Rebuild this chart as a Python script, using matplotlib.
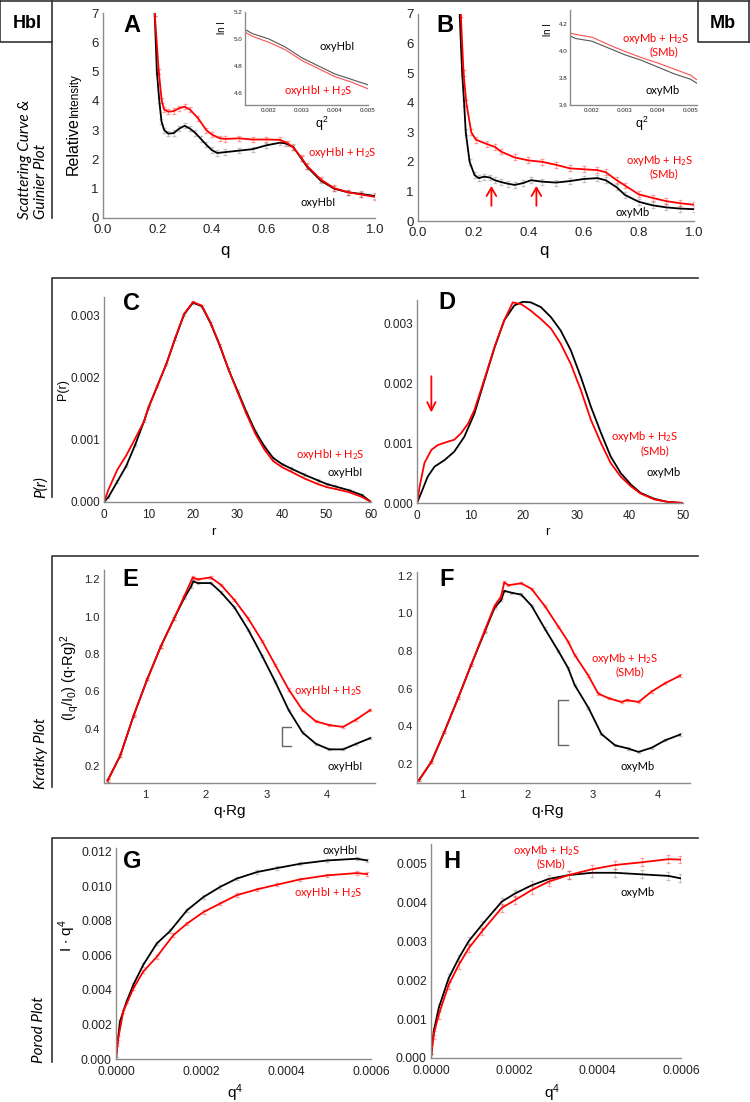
import matplotlib
matplotlib.use('Agg')
import matplotlib.pyplot as plt
from matplotlib.lines import Line2D
from matplotlib.ticker import FormatStrFormatter

plt.rcParams['font.family'] = ['Liberation Sans', 'DejaVu Sans']
plt.rcParams['mathtext.default'] = 'regular'

W, H = 750, 1102
RED = '#ff0000'
LBL = ['Lato', 'DejaVu Sans']  # Calibri-like font for curve labels

# ---- Panel A: scattering curve HbI ----
qA_black = [0.185, 0.19, 0.198, 0.207, 0.215, 0.225, 0.24, 0.26, 0.28, 0.30, 0.32, 0.34, 0.36, 0.38, 0.40,
            0.42, 0.45, 0.50, 0.55, 0.60, 0.65, 0.67, 0.70, 0.73, 0.75, 0.80, 0.85, 0.90, 0.95, 1.0]
IA_black = [7.8, 7.0, 5.0, 4.0, 3.3, 3.0, 2.88, 2.9, 3.05, 3.15, 3.05, 2.9, 2.7, 2.5, 2.32,
            2.22, 2.25, 2.3, 2.35, 2.48, 2.57, 2.55, 2.42, 2.02, 1.75, 1.28, 1.0, 0.88, 0.82, 0.75]
qA_red = [0.185, 0.19, 0.205, 0.216, 0.225, 0.24, 0.26, 0.28, 0.30, 0.32, 0.35, 0.38, 0.40, 0.43,
          0.45, 0.50, 0.55, 0.60, 0.65, 0.68, 0.70, 0.73, 0.75, 0.80, 0.85, 0.90, 0.95, 1.0]
IA_red = [7.8, 7.0, 5.0, 4.0, 3.7, 3.63, 3.65, 3.75, 3.8, 3.7, 3.4, 3.0, 2.85, 2.72,
          2.7, 2.72, 2.68, 2.68, 2.67, 2.55, 2.4, 2.05, 1.78, 1.32, 1.02, 0.88, 0.8, 0.72]
errA = 0.09

# inset A (Guinier)
q2A = [0.00128, 0.0015, 0.002, 0.0025, 0.003, 0.0035, 0.004, 0.0045, 0.005]
lnA_black = [5.07, 5.04, 5.0, 4.94, 4.86, 4.80, 4.74, 4.70, 4.66]
lnA_red = [5.05, 5.02, 4.975, 4.92, 4.84, 4.78, 4.72, 4.68, 4.63]

# ---- Panel B: scattering curve Mb ----
qB_black = [0.148, 0.151, 0.16, 0.167, 0.173, 0.187, 0.205, 0.22, 0.24, 0.26, 0.278, 0.30, 0.326, 0.35, 0.38,
            0.41, 0.45, 0.50, 0.55, 0.60, 0.65, 0.68, 0.72, 0.75, 0.80, 0.85, 0.90, 0.95, 1.0]
IB_black = [7.8, 7.0, 5.0, 4.0, 3.0, 2.0, 1.55, 1.45, 1.5, 1.47, 1.38, 1.32, 1.26, 1.22, 1.28,
            1.38, 1.33, 1.3, 1.35, 1.42, 1.45, 1.38, 1.14, 0.88, 0.65, 0.53, 0.46, 0.42, 0.4]
qB_red = [0.15, 0.155, 0.165, 0.175, 0.193, 0.21, 0.25, 0.28, 0.30, 0.35, 0.40, 0.45, 0.50, 0.55,
          0.60, 0.65, 0.68, 0.72, 0.75, 0.80, 0.85, 0.90, 0.95, 1.0]
IB_red = [7.8, 7.0, 5.0, 4.0, 3.0, 2.75, 2.6, 2.5, 2.35, 2.15, 2.05, 2.0, 1.9, 1.78,
          1.75, 1.72, 1.65, 1.38, 1.2, 0.9, 0.78, 0.67, 0.6, 0.55]
errB = 0.1
arrowsB_q = [0.266, 0.429]

q2B = [0.00133, 0.0015, 0.002, 0.0025, 0.003, 0.0035, 0.004, 0.0045, 0.005, 0.0052]
lnB_black = [4.11, 4.09, 4.07, 4.02, 3.97, 3.93, 3.88, 3.83, 3.79, 3.76]
lnB_red = [4.13, 4.12, 4.10, 4.045, 3.995, 3.95, 3.91, 3.865, 3.82, 3.785]

# ---- Panel C: P(r) HbI ----
rC = [0, 1, 3, 5, 7, 9, 10, 12, 14, 16, 18, 20, 22, 24, 26, 28, 30, 32, 34, 36, 38, 40, 42, 45, 48, 50, 52, 55, 58, 60]
PC_black = [0, 0.00008, 0.00033, 0.00058, 0.00092, 0.0013, 0.00152, 0.00187, 0.00222, 0.00263, 0.00302, 0.00321,
            0.00315, 0.00287, 0.00252, 0.00213, 0.00179, 0.00145, 0.00114, 0.0009, 0.00071, 0.00061, 0.00054,
            0.00044, 0.00035, 0.00029, 0.00025, 0.00019, 0.00011, 0]
PC_red = [0, 0.0002, 0.00052, 0.00075, 0.00102, 0.0013, 0.00152, 0.00187, 0.00222, 0.00264, 0.00303, 0.00322,
          0.00316, 0.00288, 0.00253, 0.00213, 0.00177, 0.00142, 0.0011, 0.00085, 0.00066, 0.00056, 0.00049,
          0.00038, 0.00029, 0.00024, 0.00021, 0.00016, 0.00008, 0]

# ---- Panel D: P(r) Mb ----
rD_black = [0, 0.8, 2, 3.3, 5.2, 7, 8.9, 10.8, 12.7, 14.6, 16.4, 18.3, 19.9, 21.4, 23.3, 25.2, 27, 28.9,
            30.8, 32.7, 34.6, 36.4, 38.3, 40.2, 42, 44.6, 47, 50]
PD_black = [0, 0.00017, 0.00044, 0.00061, 0.00072, 0.00086, 0.00111, 0.0015, 0.00206, 0.00261, 0.00306, 0.00331,
            0.00337, 0.00336, 0.00328, 0.00311, 0.00289, 0.00256, 0.00211, 0.00161, 0.00117, 0.00078, 0.0005,
            0.00031, 0.00017, 0.00007, 0.00002, 0]
rD_red = [0, 0.5, 1.4, 2.7, 3.9, 5.2, 7, 8.3, 9.6, 10.8, 12.7, 14.6, 16.4, 18, 19.6, 21.4, 23.3, 25.2, 27,
          28.9, 30.8, 32.7, 34.6, 36.4, 38.3, 40.2, 42, 44.6, 47, 50]
PD_red = [0, 0.00028, 0.00067, 0.00089, 0.00097, 0.00101, 0.00106, 0.00117, 0.00133, 0.00156, 0.00208, 0.00262,
          0.00306, 0.00336, 0.00333, 0.00322, 0.00308, 0.00292, 0.00267, 0.00233, 0.00189, 0.00139, 0.001,
          0.00067, 0.00044, 0.00028, 0.00016, 0.00006, 0.00002, 0]

# ---- Panel E: Kratky HbI ----
xE_black = [0.37, 0.58, 0.8, 1.03, 1.25, 1.47, 1.64, 1.75, 1.79, 1.86, 2.08, 2.25, 2.47, 2.7, 2.93, 3.15,
            3.37, 3.6, 3.82, 4.04, 4.27, 4.49, 4.72]
yE_black = [0.123, 0.257, 0.47, 0.668, 0.84, 0.99, 1.1, 1.16, 1.19, 1.18, 1.18, 1.13, 1.05, 0.93, 0.79, 0.65,
            0.5, 0.38, 0.32, 0.29, 0.29, 0.32, 0.35]
xE_red = [0.37, 0.58, 0.8, 1.03, 1.25, 1.47, 1.64, 1.78, 1.86, 2.08, 2.25, 2.47, 2.7, 2.93, 3.15, 3.37,
          3.6, 3.82, 4.04, 4.27, 4.49, 4.72]
yE_red = [0.123, 0.257, 0.47, 0.668, 0.84, 0.99, 1.11, 1.21, 1.2, 1.21, 1.17, 1.09, 0.99, 0.87, 0.74, 0.61,
          0.5, 0.44, 0.42, 0.41, 0.45, 0.5]
bracketE = ([3.4, 3.26, 3.26, 3.4], [0.409, 0.409, 0.307, 0.307])

# ---- Panel F: Kratky Mb ----
xF_black = [0.34, 0.53, 0.73, 0.94, 1.14, 1.35, 1.5, 1.6, 1.65, 1.76, 1.91, 2.07, 2.27, 2.48, 2.63, 2.73,
            2.94, 3.14, 3.35, 3.55, 3.71, 3.91, 4.12, 4.35]
yF_black = [0.115, 0.212, 0.372, 0.55, 0.726, 0.903, 1.03, 1.07, 1.12, 1.11, 1.10, 1.04, 0.92, 0.8, 0.71, 0.62,
            0.5, 0.36, 0.3, 0.283, 0.265, 0.287, 0.327, 0.357]
xF_red = [0.34, 0.53, 0.73, 0.94, 1.14, 1.35, 1.5, 1.6, 1.65, 1.71, 1.91, 2.07, 2.27, 2.48, 2.63, 2.73,
          2.94, 3.09, 3.25, 3.45, 3.53, 3.71, 3.91, 4.12, 4.35]
yF_red = [0.115, 0.212, 0.372, 0.55, 0.726, 0.91, 1.04, 1.09, 1.165, 1.15, 1.16, 1.13, 1.04, 0.93, 0.85, 0.78,
          0.67, 0.575, 0.55, 0.53, 0.54, 0.53, 0.585, 0.63, 0.67]
bracketF = ([2.62, 2.48, 2.48, 2.62], [0.54, 0.54, 0.30, 0.30])

# ---- Panel G: Porod HbI ----
xG_black = [0, 3e-6, 9.4e-6, 2.5e-5, 4.1e-5, 6.4e-5, 9.6e-5, 1.27e-4, 1.67e-4, 2.06e-4, 2.45e-4, 2.84e-4,
            3.32e-4, 3.79e-4, 4.34e-4, 4.97e-4, 5.67e-4, 5.91e-4]
yG_black = [0, 0.00083, 0.00217, 0.00333, 0.0043, 0.00544, 0.00668, 0.00739, 0.0086, 0.00937, 0.00995, 0.01043,
            0.01081, 0.01104, 0.01129, 0.01148, 0.01158, 0.01148]
xG_red = [0, 5.5e-6, 1.7e-5, 4.1e-5, 6.4e-5, 9.6e-5, 1.35e-4, 1.67e-4, 2.06e-4, 2.45e-4, 2.84e-4, 3.32e-4,
          3.79e-4, 4.34e-4, 4.97e-4, 5.67e-4, 5.91e-4]
yG_red = [0, 0.00121, 0.00275, 0.00409, 0.00505, 0.00591, 0.00716, 0.00783, 0.0085, 0.00899, 0.00947, 0.00981,
          0.01008, 0.01039, 0.01062, 0.01075, 0.01069]
errG = 0.0001

# ---- Panel H: Porod Mb ----
xH = [0, 6.4e-6, 1.84e-5, 4.24e-5, 6.64e-5, 9.04e-5, 1.22e-4, 1.7e-4, 2.02e-4, 2.42e-4, 2.82e-4, 3.3e-4,
      3.86e-4, 4.42e-4, 5.06e-4, 5.7e-4, 5.98e-4]
yH_black = [0, 0.00068, 0.00128, 0.00205, 0.00256, 0.003, 0.00342, 0.00402, 0.00423, 0.00444, 0.0046, 0.0047,
            0.00476, 0.00476, 0.00472, 0.00468, 0.00462]
yH_red = [0, 0.0006, 0.00111, 0.00188, 0.00239, 0.00282, 0.00325, 0.00386, 0.00406, 0.00432, 0.00453, 0.0047,
          0.00485, 0.00496, 0.00503, 0.00511, 0.0051]
errH = 0.0001


def fx(x):
    return x / W


def fy(y):
    return 1 - y / H


def make_ax(l, t, r, b, tsize=9):
    ax = fig.add_axes([fx(l), fy(b), (r - l) / W, (b - t) / H])
    for s in ['top', 'right']:
        ax.spines[s].set_visible(False)
    for s in ['left', 'bottom']:
        ax.spines[s].set_color('#8c8c8c')
        ax.spines[s].set_linewidth(1.0)
    ax.tick_params(length=0, labelsize=tsize, colors='#222222')
    ax.tick_params(axis='y', pad=3)
    ax.tick_params(axis='x', pad=5)
    ax.patch.set_alpha(0)
    return ax


def ftext(x, y, s, **kw):
    fig.text(fx(x), fy(y), s, **kw)


def fline(xs, ys, lw=1.2, color='#333333'):
    fig.add_artist(Line2D([fx(x) for x in xs], [fy(y) for y in ys], transform=fig.transFigure,
                          color=color, lw=lw))


def curve(ax, x, y, color, err=None, lw=1.3):
    if err is not None:
        ecol = '#666666' if color == 'black' else color
        ax.errorbar(x, y, yerr=err, fmt='none', ecolor=ecol, alpha=0.35, elinewidth=0.6, capsize=1.5)
    ax.plot(x, y, color=color, lw=lw)


fig = plt.figure(figsize=(W / 100, H / 100), dpi=100)

# frame lines and boxes
fline([0, 52, 52, 0, 0], [1, 1, 42, 42, 1])
fline([52, 750], [1, 1])
fline([52, 52], [42, 218])
fline([698, 698, 750], [1, 42, 42])
fline([749, 749], [1, 42])
ftext(27, 23, 'HbI', ha='center', va='center', fontsize=13, fontweight='bold')
ftext(723, 23, 'Mb', ha='center', va='center', fontsize=13, fontweight='bold')
for top, bot in [(278, 497), (556, 787), (838, 1062)]:
    fline([698, 52, 52], [top, top, bot])

# row labels
rl = dict(family=LBL, style='italic', fontsize=11, rotation=90, ha='center', va='bottom')
ftext(25, 219, 'Scattering Curve &', **rl)
ftext(41, 219, 'Guinier Plot', **rl)
ftext(41, 498, 'P(r)', **rl)
ftext(41, 789, 'Kratky Plot', **rl)
ftext(39, 1063, 'Porod Plot', **rl)

lab = dict(family=LBL, fontsize=8, ha='center', va='center')
letter = dict(fontsize=17, fontweight='bold', ha='center', va='center')

# ---- A ----
ax = make_ax(103, 13, 375, 218, tsize=9.5)
curve(ax, qA_black, IA_black, 'black', errA)
curve(ax, qA_red, IA_red, RED, errA)
ax.set_xlim(0, 1.0)
ax.set_ylim(0, 7)
ax.set_xticks([0, 0.2, 0.4, 0.6, 0.8, 1.0])
ax.xaxis.set_major_formatter(FormatStrFormatter('%.1f'))
ax.set_yticks(range(8))
ax.tick_params(axis='x', pad=4)
ftext(225, 250, 'q', ha='center', va='center', fontsize=12)
ftext(73, 146, 'Relative', rotation=90, ha='center', va='center', fontsize=11.5)
ftext(75, 95, 'Intensity', rotation=90, ha='center', va='center', fontsize=8.5)
ftext(132, 25, 'A', **letter)
ftext(342, 152, 'oxyHbI + H$_2$S', color=RED, **lab)
ftext(318, 203, 'oxyHbI', color='black', **lab)

ax = make_ax(245, 12, 368, 105, tsize=4.5)
ax.plot(q2A, lnA_black, color='#555555', lw=0.8)
ax.plot(q2A, lnA_red, color='#ff5050', lw=0.8)
ax.set_xlim(0.00128, 0.005)
ax.set_ylim(4.51, 5.2)
ax.set_xticks([0.002, 0.003, 0.004, 0.005])
ax.xaxis.set_major_formatter(FormatStrFormatter('%.3f'))
ax.set_yticks([4.6, 4.8, 5.0, 5.2])
ax.yaxis.set_major_formatter(FormatStrFormatter('%.1f'))
ax.tick_params(pad=2)
ftext(322, 124, 'q$^2$', ha='center', va='center', fontsize=9)
ftext(222, 28, 'ln I', rotation=90, ha='center', va='center', fontsize=7)
ftext(337, 47, 'oxyHbI', color='black', **lab)
ftext(318, 90, 'oxyHbI + H$_2$S', color=RED, **lab)

# ---- B ----
ax = make_ax(418, 14, 694, 221, tsize=9.5)
curve(ax, qB_black, IB_black, 'black', errB)
curve(ax, qB_red, IB_red, RED, errB)
for q in arrowsB_q:
    ax.annotate('', xy=(q, 1.28), xytext=(q, 0.42),
                arrowprops=dict(arrowstyle='->,head_width=0.35,head_length=0.6', color=RED, lw=1.3))
ax.set_xlim(0, 1.0)
ax.set_ylim(0, 7)
ax.set_xticks([0, 0.2, 0.4, 0.6, 0.8, 1.0])
ax.xaxis.set_major_formatter(FormatStrFormatter('%.1f'))
ax.set_yticks(range(8))
ax.tick_params(axis='x', pad=4)
ftext(544, 250, 'q', ha='center', va='center', fontsize=12)
ftext(445, 25, 'B', **letter)
ftext(660, 160, 'oxyMb + H$_2$S', color=RED, **lab)
ftext(664, 174, '(SMb)', color=RED, **lab)
ftext(633, 212, 'oxyMb', color='black', **lab)

ax = make_ax(570, 10, 697, 105, tsize=4.5)
ax.plot(q2B, lnB_black, color='#555555', lw=0.8)
ax.plot(q2B, lnB_red, color='#ff5050', lw=0.8)
ax.set_xlim(0.00133, 0.0052)
ax.set_ylim(3.6, 4.3)
ax.set_xticks([0.002, 0.003, 0.004, 0.005])
ax.xaxis.set_major_formatter(FormatStrFormatter('%.3f'))
ax.set_yticks([3.6, 3.8, 4.0, 4.2])
ax.yaxis.set_major_formatter(FormatStrFormatter('%.1f'))
ax.tick_params(pad=2)
ftext(642, 124, 'q$^2$', ha='center', va='center', fontsize=9)
ftext(548, 30, 'ln I', rotation=90, ha='center', va='center', fontsize=7)
ftext(656, 38, 'oxyMb + H$_2$S', color=RED, **lab)
ftext(664, 52, '(SMb)', color=RED, **lab)
ftext(663, 91, 'oxyMb', color='black', **lab)

# ---- C ----
ax = make_ax(104, 297, 371, 502, tsize=8.5)
curve(ax, rC, PC_black, 'black', 0.00002)
curve(ax, rC, PC_red, RED)
ax.set_xlim(0, 60)
ax.set_ylim(0, 0.0033)
ax.set_xticks(range(0, 61, 10))
ax.set_yticks([0, 0.001, 0.002, 0.003])
ax.yaxis.set_major_formatter(FormatStrFormatter('%.3f'))
ftext(213, 532, 'r', ha='center', va='center', fontsize=9.5)
ftext(63, 390, 'P(r)', rotation=90, ha='center', va='center', fontsize=9)
ftext(131, 304, 'C', **letter)
ftext(330, 455, 'oxyHbI + H$_2$S', color=RED, **lab)
ftext(345, 473, 'oxyHbI', color='black', **lab)

# ---- D ----
ax = make_ax(417, 300, 683, 503, tsize=8.5)
curve(ax, rD_black, PD_black, 'black')
curve(ax, rD_red, PD_red, RED)
ax.annotate('', xy=(2.7, 0.00147), xytext=(2.7, 0.00217),
            arrowprops=dict(arrowstyle='->,head_width=0.3,head_length=0.6', color=RED, lw=1.3))
ax.set_xlim(0, 50)
ax.set_ylim(0, 0.0034)
ax.set_xticks(range(0, 51, 10))
ax.set_yticks([0, 0.001, 0.002, 0.003])
ax.yaxis.set_major_formatter(FormatStrFormatter('%.3f'))
ftext(547, 532, 'r', ha='center', va='center', fontsize=9.5)
ftext(447, 303, 'D', **letter)
ftext(645, 437, 'oxyMb + H$_2$S', color=RED, **lab)
ftext(655, 451, '(SMb)', color=RED, **lab)
ftext(664, 472, 'oxyMb', color='black', **lab)

# ---- E ----
ax = make_ax(104, 570, 375, 783, tsize=8)
curve(ax, xE_black, yE_black, 'black', 0.006)
curve(ax, xE_red, yE_red, RED, 0.006)
ax.plot(*bracketE, color='#666666', lw=1.0)
ax.set_xlim(0.31, 4.8)
ax.set_ylim(0.11, 1.25)
ax.set_xticks([1, 2, 3, 4])
ax.set_yticks([0.2, 0.4, 0.6, 0.8, 1.0, 1.2])
ax.yaxis.set_major_formatter(FormatStrFormatter('%.1f'))
ftext(230, 812, 'q$\\cdot$Rg', ha='center', va='center', fontsize=11)
ftext(70, 678, '(I$_q$/I$_0$) (q$\\cdot$Rg)$^2$', rotation=90, ha='center', va='center', fontsize=10.5)
ftext(130, 580, 'E', **letter)
ftext(328, 690, 'oxyHbI + H$_2$S', color=RED, **lab)
ftext(345, 767, 'oxyHbI', color='black', **lab)

# ---- F ----
ax = make_ax(417, 572, 690, 783, tsize=8)
curve(ax, xF_black, yF_black, 'black', 0.006)
curve(ax, xF_red, yF_red, RED, 0.006)
ax.plot(*bracketF, color='#666666', lw=1.0)
ax.set_xlim(0.31, 4.5)
ax.set_ylim(0.1, 1.22)
ax.set_xticks([1, 2, 3, 4])
ax.set_yticks([0.2, 0.4, 0.6, 0.8, 1.0, 1.2])
ax.yaxis.set_major_formatter(FormatStrFormatter('%.1f'))
ftext(548, 812, 'q$\\cdot$Rg', ha='center', va='center', fontsize=11)
ftext(447, 580, 'F', **letter)
ftext(625, 658, 'oxyMb + H$_2$S', color=RED, **lab)
ftext(630, 672, '(SMb)', color=RED, **lab)
ftext(638, 767, 'oxyMb', color='black', **lab)

# ---- G ----
ax = make_ax(116, 848, 371, 1059, tsize=8.7)
curve(ax, xG_black, yG_black, 'black', errG)
curve(ax, xG_red, yG_red, RED, errG)
ax.set_xlim(0, 0.0006)
ax.set_ylim(0, 0.0122)
ax.set_xticks([0, 0.0002, 0.0004, 0.0006])
ax.xaxis.set_major_formatter(FormatStrFormatter('%.4f'))
ax.set_yticks([0, 0.002, 0.004, 0.006, 0.008, 0.010, 0.012])
ax.yaxis.set_major_formatter(FormatStrFormatter('%.3f'))
ftext(235, 1093, 'q$^4$', ha='center', va='center', fontsize=11)
ftext(67, 935, 'I $\\bullet$ q$^4$', rotation=90, ha='center', va='center', fontsize=11)
ftext(132, 862, 'G', **letter)
ftext(340, 850, 'oxyHbI', color='black', **lab)
ftext(328, 892, 'oxyHbI + H$_2$S', color=RED, **lab)

# ---- H ----
ax = make_ax(431, 844, 681, 1058, tsize=8.7)
curve(ax, xH, yH_black, 'black', errH)
curve(ax, xH, yH_red, RED, errH)
ax.set_xlim(0, 0.0006)
ax.set_ylim(0, 0.0055)
ax.set_xticks([0, 0.0002, 0.0004, 0.0006])
ax.xaxis.set_major_formatter(FormatStrFormatter('%.4f'))
ax.set_yticks([0, 0.001, 0.002, 0.003, 0.004, 0.005])
ax.yaxis.set_major_formatter(FormatStrFormatter('%.3f'))
ftext(552, 1093, 'q$^4$', ha='center', va='center', fontsize=11)
ftext(452, 862, 'H', **letter)
ftext(547, 850, 'oxyMb + H$_2$S', color=RED, **lab)
ftext(551, 864, '(SMb)', color=RED, **lab)
ftext(638, 892, 'oxyMb', color='black', **lab)

fig.savefig('out.png', dpi=100)
